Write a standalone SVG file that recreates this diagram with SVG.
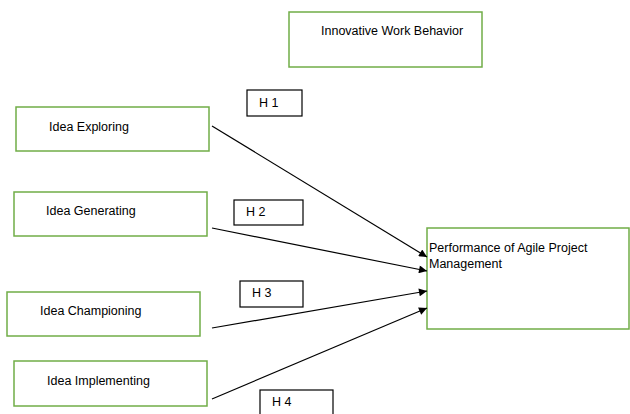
<svg xmlns="http://www.w3.org/2000/svg" width="630" height="414" viewBox="0 0 630 414">
<defs>
<style>
.n{fill:#fff;stroke:#70AD47;stroke-width:1.5}
.h{fill:#fff;stroke:#000;stroke-width:1.2}
.t{font-family:"Liberation Sans",Arial,sans-serif;font-size:12.5px;fill:#000}
.c{stroke:#000;stroke-width:1.2;fill:none;marker-end:url(#a)}
</style>
<marker id="a" viewBox="0 0 10 10" refX="10" refY="5" markerWidth="10" markerHeight="8" markerUnits="userSpaceOnUse" orient="auto">
<path d="M0,0 L10,5 L0,10 z" fill="#000"/>
</marker>
</defs>
<g id="iwb"><rect class="n" x="289" y="12" width="193" height="55"/><text class="t" x="321" y="35">Innovative Work Behavior</text></g>
<g id="explore"><rect class="n" x="16" y="107" width="193" height="44"/><text class="t" x="49" y="131">Idea Exploring</text></g>
<g id="generate"><rect class="n" x="14" y="192" width="193" height="44"/><text class="t" x="46" y="215">Idea Generating</text></g>
<g id="champion"><rect class="n" x="7" y="292" width="193" height="44"/><text class="t" x="40" y="315">Idea Championing</text></g>
<g id="implement"><rect class="n" x="14" y="361" width="193" height="45"/><text class="t" x="47" y="385">Idea Implementing</text></g>
<g id="perf"><rect class="n" x="427" y="228" width="202" height="101"/><text class="t" x="429" y="252">Performance of Agile Project</text><text class="t" x="429" y="268">Management</text></g>
<g id="h1"><rect class="h" x="247" y="90" width="55" height="26"/><text class="t" x="259" y="107">H 1</text></g>
<g id="h2"><rect class="h" x="234" y="200" width="69" height="25"/><text class="t" x="246" y="216">H 2</text></g>
<g id="h3"><rect class="h" x="240" y="281" width="63" height="26"/><text class="t" x="252" y="297">H 3</text></g>
<g id="h4"><rect class="h" x="260" y="390" width="73" height="30"/><text class="t" x="272" y="406">H 4</text></g>
<g id="connectors">
<line class="c" x1="212" y1="126" x2="427" y2="257"/>
<line class="c" x1="212" y1="228" x2="427" y2="271"/>
<line class="c" x1="212" y1="328" x2="427" y2="291"/>
<line class="c" x1="212" y1="399" x2="427" y2="308"/>
</g>
</svg>
